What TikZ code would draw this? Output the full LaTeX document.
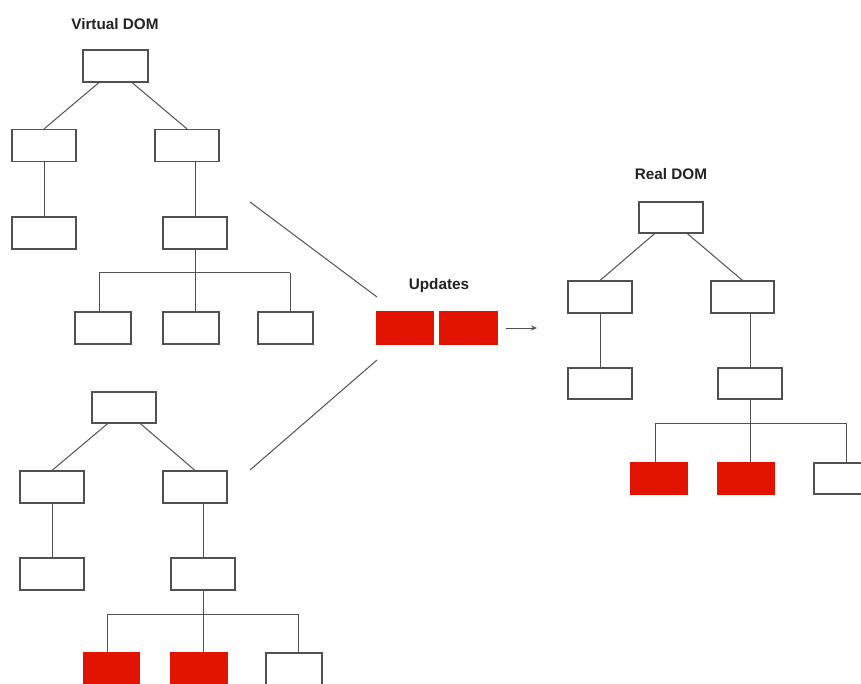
\documentclass[tikz,border=0pt]{standalone}
\usepackage{fontspec}
\setmainfont{Liberation Sans}
\usetikzlibrary{calc,arrows.meta}
\definecolor{domred}{RGB}{226,20,0}
\definecolor{edgegray}{RGB}{80,80,80}
\definecolor{txtdark}{RGB}{34,34,34}
\tikzset{
  domnode/.style={draw=edgegray, line width=1.15pt, fill=white, inner sep=0pt, minimum width=64pt, minimum height=32pt},
  leafnode/.style={domnode, minimum width=56pt},
  rednode/.style={leafnode, draw=domred, fill=domred},
  link/.style={draw=edgegray, line width=1pt},
  title/.style={font=\bfseries\fontsize{15.3}{18}\selectfont, text=txtdark, inner sep=0pt},
}
\begin{document}
\begin{tikzpicture}[x=1pt,y=-1pt]
\useasboundingbox (0,0) rectangle (861,684);
% ---------- top virtual tree ----------
\node[title] (vtitle) at (115,24) {Virtual DOM};
\node[domnode, minimum width=65pt] (vroot) at (115.5,66) {};
\node[domnode] (vl2l) at (44,145.5) {};
\node[domnode] (vl2r) at (187,145.5) {};
\node[domnode] (vl3l) at (44,233) {};
\node[domnode] (vl3r) at (195,233) {};
\node[leafnode] (vl4a) at (103,328) {};
\node[leafnode] (vl4b) at (191,328) {};
\node[leafnode, minimum width=55pt] (vl4c) at (285.5,328) {};
\coordinate (vbus) at (195,273);
\coordinate (vbusa) at (99,273);
\coordinate (vbusc) at (290,273);
\draw[link] ($(vroot.south west)!0.25!(vroot.south east)$) -- (vl2l.north);
\draw[link] ($(vroot.south west)!0.75!(vroot.south east)$) -- (vl2r.north);
\draw[link] (vl2l.south) -- (vl3l.north);
\draw[link] (vl3r.north |- vl2r.south) -- (vl3r.north);
\draw[link] (vl3r.south) -- (vbus);
\draw[link] (vbusa) -- (vbusc);
\draw[link] (vbusa) -- (vbusa |- vl4a.north);
\draw[link] (vbus) -- (vbus |- vl4b.north);
\draw[link] (vbusc) -- (vbusc |- vl4c.north);
% ---------- bottom virtual tree ----------
\node[domnode, minimum height=31pt] (broot) at (124,407.5) {};
\node[domnode] (bl2l) at (52,487) {};
\node[domnode] (bl2r) at (195,487) {};
\node[domnode] (bl3l) at (52,574) {};
\node[domnode] (bl3r) at (203,574) {};
\node[rednode, minimum width=55pt] (bl4a) at (111.5,669) {};
\node[rednode] (bl4b) at (199,669) {};
\node[leafnode] (bl4c) at (294,669) {};
\coordinate (bbus) at (203,614);
\coordinate (bbusa) at (107,614);
\coordinate (bbusc) at (298,614);
\draw[link] ($(broot.south west)!0.25!(broot.south east)$) -- (bl2l.north);
\draw[link] ($(broot.south west)!0.75!(broot.south east)$) -- (bl2r.north);
\draw[link] (bl2l.south) -- (bl3l.north);
\draw[link] (bl3r.north |- bl2r.south) -- (bl3r.north);
\draw[link] (bl3r.south) -- (bbus);
\draw[link] (bbusa) -- (bbusc);
\draw[link] (bbusa) -- (bbusa |- bl4a.north);
\draw[link] (bbus) -- (bbus |- bl4b.north);
\draw[link] (bbusc) -- (bbusc |- bl4c.north);
% ---------- updates ----------
\node[title] (utitle) at (439,286) {Updates};
\node[rednode] (u1) at (405,328) {};
\node[rednode, minimum width=57pt] (u2) at (468.5,328) {};
\coordinate (topfrom) at (250,202);
\coordinate (topto) at (377,297);
\coordinate (botfrom) at (377,360);
\coordinate (botto) at (250,470);
\draw[link] (topfrom) -- (topto);
\draw[link] (botfrom) -- (botto);
\coordinate (arrowend) at (537,328);
\draw[link, -{Stealth[length=6pt,width=5pt]}] ([xshift=8pt]u2.east) -- (arrowend);
% ---------- real tree ----------
\node[title] (rtitle) at (671,174) {Real DOM};
\node[domnode, minimum height=31pt] (rroot) at (671,217.5) {};
\node[domnode] (rl2l) at (600,297) {};
\node[domnode, minimum width=63pt] (rl2r) at (742.5,297) {};
\node[domnode, minimum height=31pt] (rl3l) at (600,383.5) {};
\node[domnode, minimum height=31pt] (rl3r) at (750,383.5) {};
\node[rednode, minimum height=31pt] (rl4a) at (659,478.5) {};
\node[rednode, minimum height=31pt] (rl4b) at (746,478.5) {};
\node[leafnode, minimum height=31pt] (rl4c) at (842,478.5) {};
\coordinate (rbus) at (750,423);
\coordinate (rbusa) at (655,423);
\coordinate (rbusc) at (846,423);
\draw[link] ($(rroot.south west)!0.25!(rroot.south east)$) -- (rl2l.north);
\draw[link] ($(rroot.south west)!0.75!(rroot.south east)$) -- (rl2r.north);
\draw[link] (rl2l.south) -- (rl3l.north);
\draw[link] (rl3r.north |- rl2r.south) -- (rl3r.north);
\draw[link] (rl3r.south) -- (rbus);
\draw[link] (rbusa) -- (rbusc);
\draw[link] (rbusa) -- (rbusa |- rl4a.north);
\draw[link] (rbus) -- (rbus |- rl4b.north);
\draw[link] (rbusc) -- (rbusc |- rl4c.north);
\end{tikzpicture}
\end{document}
